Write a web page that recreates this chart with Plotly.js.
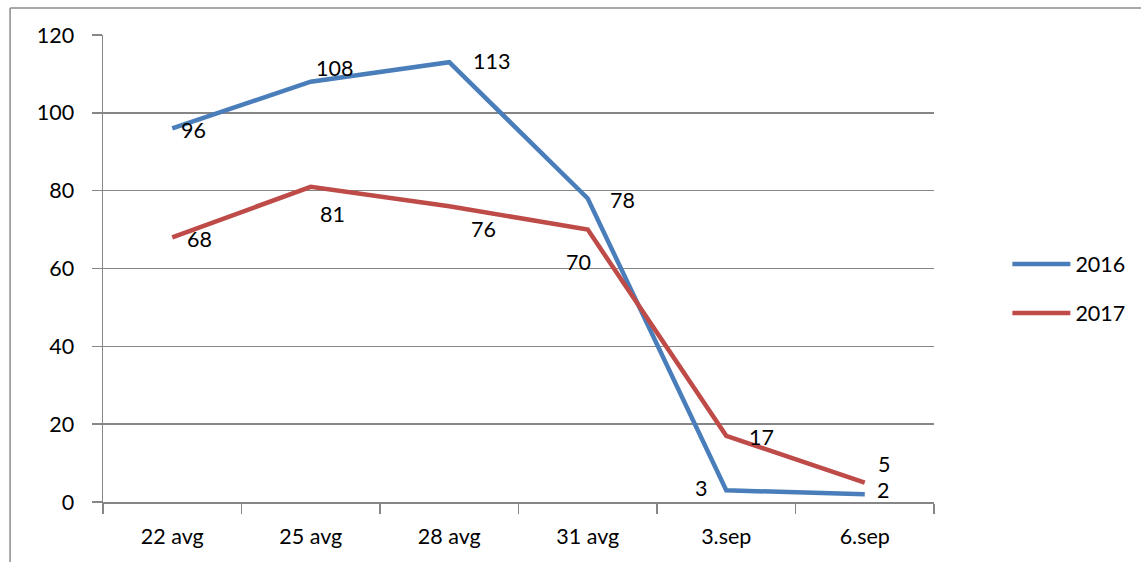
<!DOCTYPE html>
<html>
<head>
<meta charset="utf-8">
<script src="https://cdn.plot.ly/plotly-3.0.1.min.js"></script>
<style>html,body{margin:0;padding:0;background:#fff;}#chart{width:1141px;height:562px;}</style>
</head>
<body>
<div id="chart"></div>
<script>
const categories = ["22 avg", "25 avg", "28 avg", "31 avg", "3.sep", "6.sep"];
const series2016 = [96, 108, 113, 78, 3, 2];
const series2017 = [68, 81, 76, 70, 17, 5];
const seriesNames = ["2016", "2017"];
const yTicks = [0, 20, 40, 60, 80, 100, 120];

// label pixel offsets (dx right, dy up)
const offs2016 = [[21,-2],[24,14],[42,1],[35,-2],[-25,2],[18,4]];
const offs2017 = [[27,-2],[22,-27],[34,-23],[-9,-32],[35,-1],[19,19]];

const FONT = "Lato, 'Open Sans', sans-serif";
const FS = 21.5;
const blue = "#4a7ebb", red = "#be4b48";

const traces = [
  {x: categories, y: series2016, name: seriesNames[0], type: "scatter", mode: "lines",
   line: {color: blue, width: 4.5}, legendgroup: "a"},
  {x: categories, y: series2017, name: seriesNames[1], type: "scatter", mode: "lines",
   line: {color: red, width: 4.5}, legendgroup: "b"}
];

const annotations = [];
[[series2016, offs2016], [series2017, offs2017]].forEach(([vals, offs]) => {
  vals.forEach((v, i) => {
    annotations.push({x: categories[i], y: v, xref: "x", yref: "y", text: String(v),
      showarrow: false, xshift: offs[i][0], yshift: offs[i][1],
      font: {family: FONT, size: FS, color: "#000"}});
  });
});

const layout = {
  width: 1141, height: 562,
  margin: {l: 103, r: 206, t: 35, b: 60},
  paper_bgcolor: "#fff", plot_bgcolor: "#fff",
  font: {family: FONT, size: FS, color: "#000"},
  showlegend: true,
  legend: {x: 1.087, y: 0.457, xanchor: "left", yanchor: "middle", traceorder: "grouped",
    itemwidth: 58,
    tracegroupgap: 18, font: {family: FONT, size: FS, color: "#000"}, bgcolor: "rgba(0,0,0,0)"},
  xaxis: {type: "category", range: [-0.5, 5.5], showgrid: false, zeroline: false,
    showline: true, linecolor: "#868686", linewidth: 1.5,
    ticks: "outside", tickson: "boundaries", ticklen: 10, tickcolor: "#868686", tickwidth: 1.5,
    ticklabelstandoff: 15, tickfont: {family: FONT, size: FS, color: "#000"}, fixedrange: true},
  yaxis: {range: [0, 120], tickvals: yTicks, ticktext: yTicks.map(String),
    showgrid: true, gridcolor: "#868686", gridwidth: 1.5, zeroline: false,
    showline: true, linecolor: "#868686", linewidth: 1.5,
    ticks: "outside", ticklen: 10, tickcolor: "#868686", tickwidth: 1.5,
    ticklabelstandoff: 13, tickfont: {family: FONT, size: FS, color: "#000"}, fixedrange: true},
  annotations: annotations,
  shapes: [
    {type: "line", xref: "paper", yref: "paper", x0: -0.1118, x1: 1.4, y0: 1.0578, y1: 1.0578,
     line: {color: "#8c8c8c", width: 1.5}},
    {type: "line", xref: "paper", yref: "paper", x0: -0.1118, x1: -0.1118, y0: 1.0578, y1: -0.2,
     line: {color: "#8c8c8c", width: 1.5}}
  ]
};

Plotly.newPlot("chart", traces, layout, {displayModeBar: false, staticPlot: true});
</script>
</body>
</html>
